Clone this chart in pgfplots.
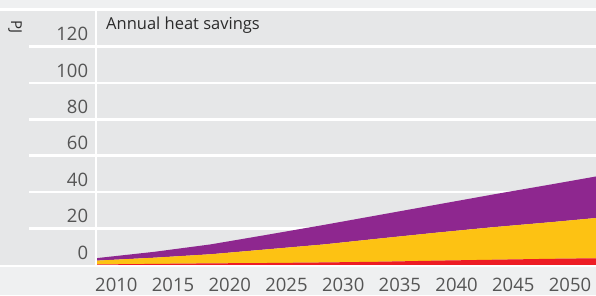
\documentclass[border=0pt]{standalone}
\usepackage{fontspec}
\setmainfont{Open Sans}
\usepackage{pgfplots}
\pgfplotsset{compat=1.18}
\definecolor{bgmid}{HTML}{E6E7E8}
\definecolor{bglight}{HTML}{EFF0F1}
\definecolor{cpurple}{HTML}{8E278F}
\definecolor{cyellow}{HTML}{FDC213}
\definecolor{cred}{HTML}{ED1C24}
\definecolor{ticktext}{HTML}{555555}
\definecolor{titletext}{HTML}{2B2B2B}
\begin{document}
\begin{tikzpicture}[x=1pt,y=1pt]
\useasboundingbox (0,0) rectangle (596,295);
\fill[bglight] (0,0) rectangle (596,295);
\fill[bgmid] (0,28) rectangle (596,285);
% grid lines extending into label column
\foreach \v in {20,40,...,120} {
  \draw[white, line width=2.5pt] (29,{30+\v*1.82143}) -- (97,{30+\v*1.82143});
}
\begin{axis}[
  at={(97pt,30pt)}, anchor=south west,
  scale only axis, width=499pt, height=255pt,
  xmin=2010, xmax=2054, ymin=0, ymax=140,
  axis line style={draw=none},
  tick style={draw=none},
  xtick={2010,2015,...,2050},
  ytick={0,20,...,120},
  ymajorgrids, grid style={white, line width=2.5pt},
  x tick label style={/pgf/number format/1000 sep={}},
  /pgf/number format/assume math mode=true,
  xticklabel style={anchor=north west, inner sep=0pt, xshift=-2pt, yshift=-13pt,
    font=\fontsize{18.5}{20}\selectfont, text=ticktext},
  yticklabel style={anchor=east, inner sep=0pt, xshift=-8.7pt, yshift=12.4pt,
    font=\fontsize{18.5}{20}\selectfont, text=ticktext},
  stack plots=y,
  clip=false,
]
\addplot[fill=cred, draw=none] coordinates {
 (2010,0.3) (2015,0.6) (2020,0.9) (2025,1.1) (2030,1.4) (2035,1.8) (2040,2.4) (2045,2.9) (2050,3.4) (2054,3.7)
} \closedcycle;
\addplot[fill=cyellow, draw=none] coordinates {
 (2010,2.1) (2015,3.4) (2020,5.0) (2025,7.5) (2030,9.9) (2035,12.8) (2040,15.4) (2045,17.9) (2050,20.1) (2054,22.1)
} \closedcycle;
\addplot[fill=cpurple, draw=none] coordinates {
 (2010,1.4) (2015,3.2) (2020,5.4) (2025,8.0) (2030,10.7) (2035,13.0) (2040,15.4) (2045,18.0) (2050,20.7) (2054,22.8)
} \closedcycle;
\end{axis}
% separators
\draw[white, line width=2.5pt] (0,285.5) -- (596,285.5);
\draw[white, line width=2.2pt] (0,29) -- (596,29);
\draw[white, line width=2.4pt] (95.8,29) -- (95.8,285.5);
\node[anchor=base west, inner sep=0pt, text=titletext, font=\fontsize{16.5}{18}\selectfont] at (106,265) {Annual heat savings};
\node[rotate=-90, anchor=center, inner sep=0pt, text=titletext, font=\fontsize{15}{17}\selectfont] at (15,268) {PJ};
\end{tikzpicture}
\end{document}
